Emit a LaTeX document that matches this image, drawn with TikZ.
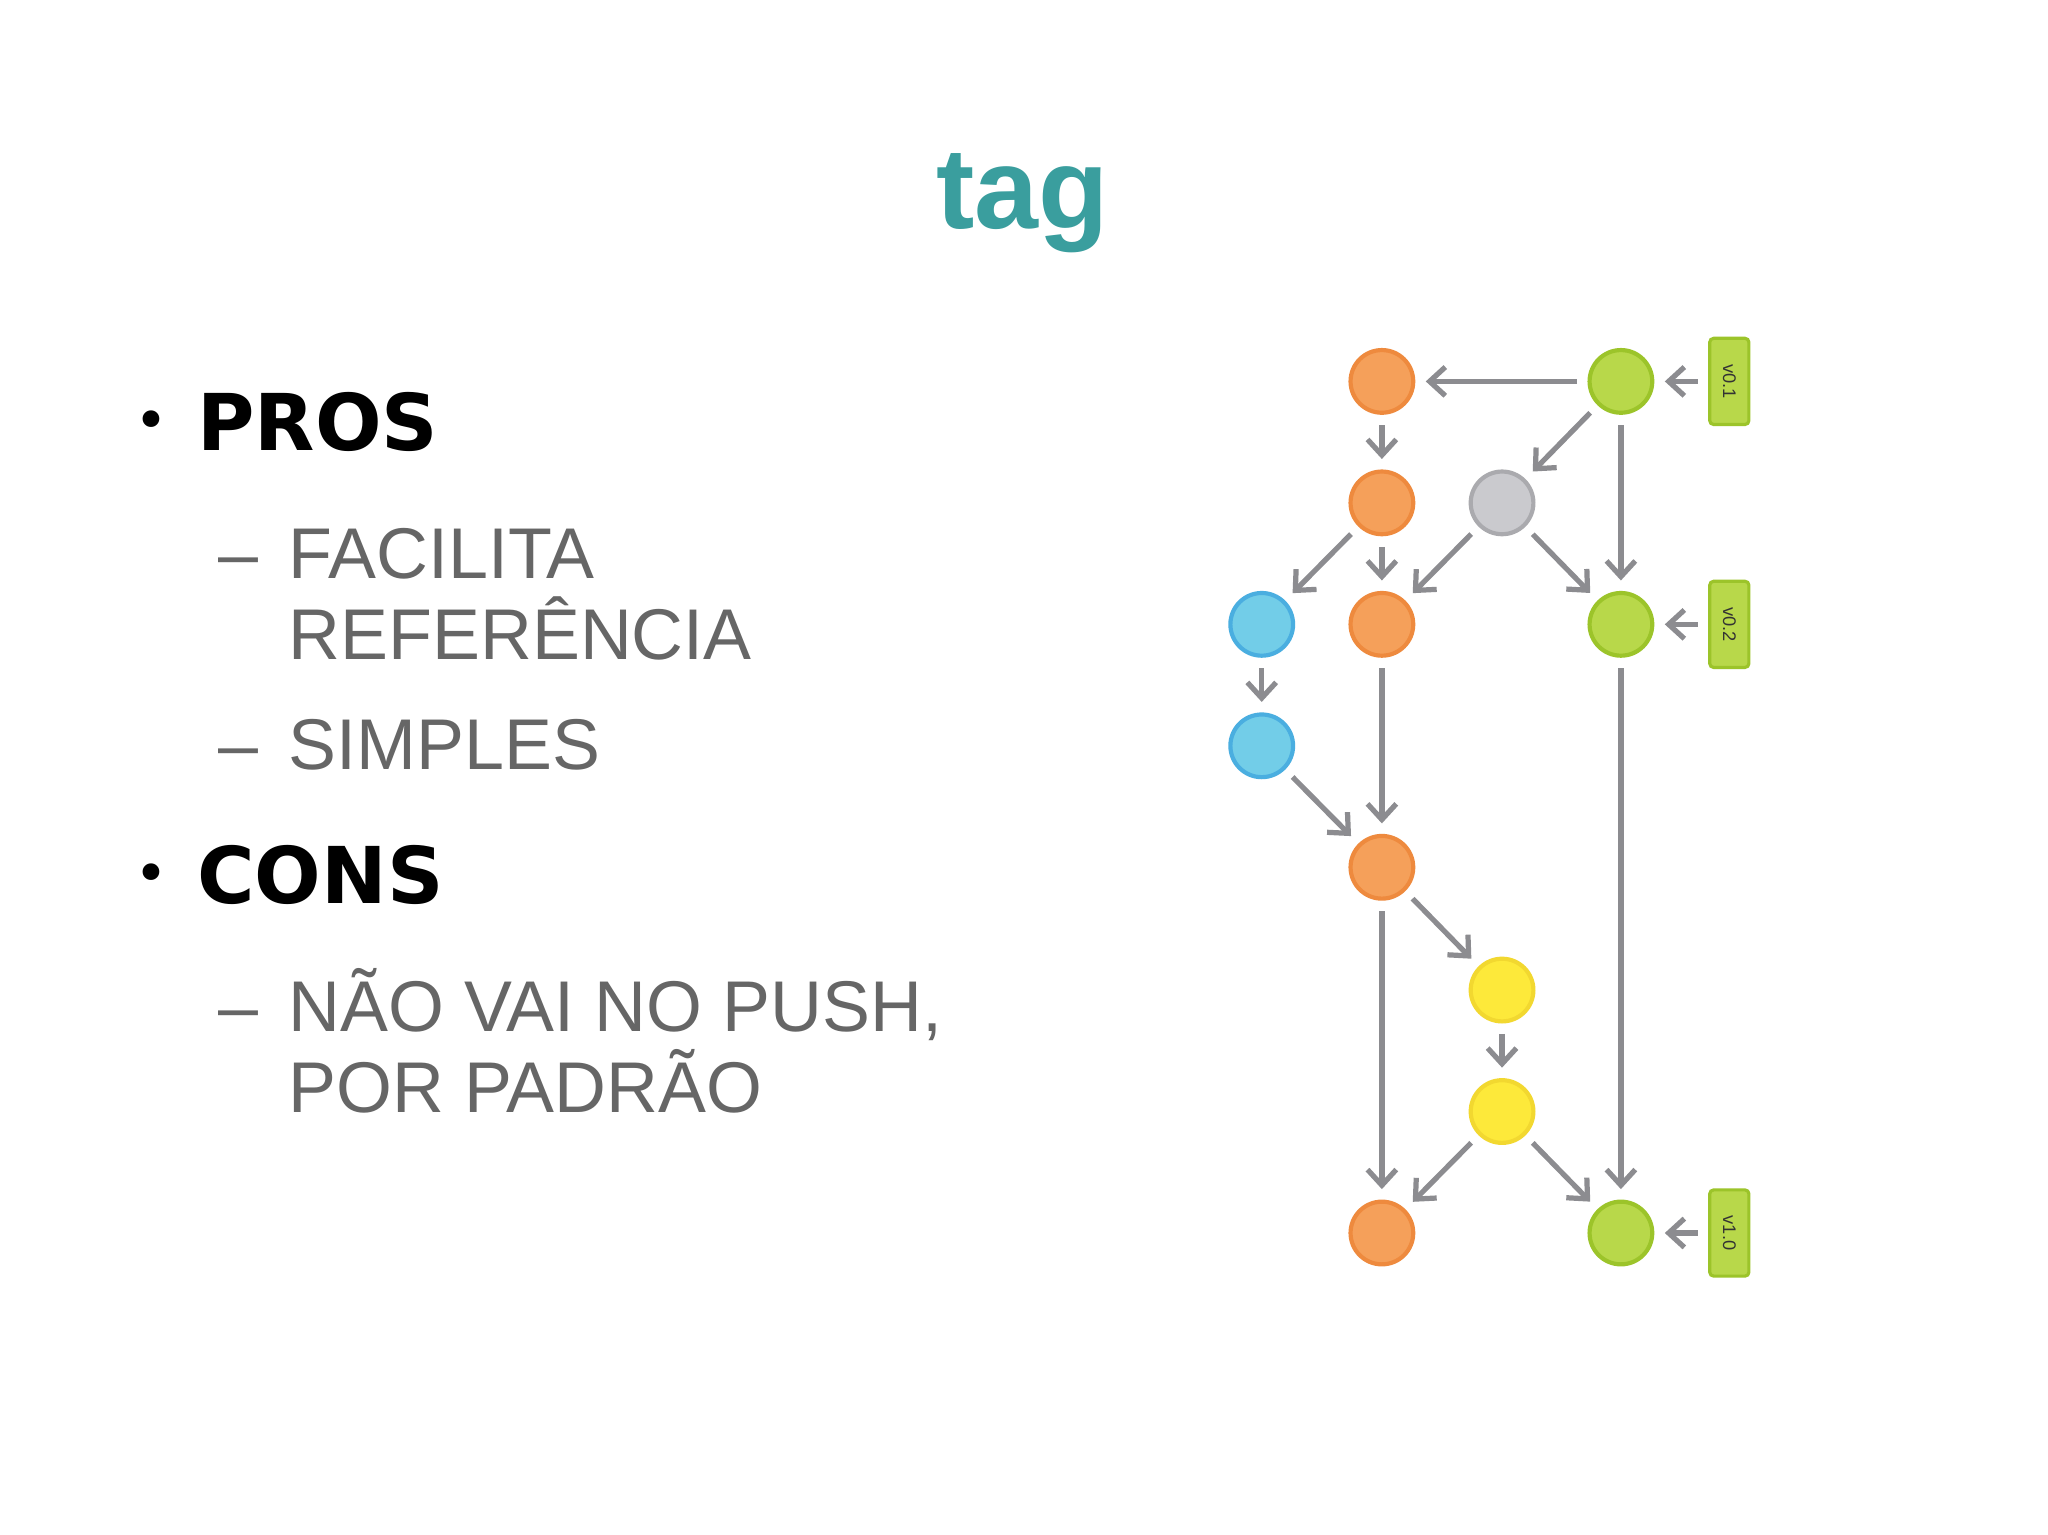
\documentclass[tikz,border=0pt]{standalone}
\usepackage{fontspec}
\setmainfont{Liberation Sans}
\newfontfamily\heavy{DejaVu Sans}
\usetikzlibrary{arrows.meta}
\definecolor{teal1}{HTML}{3A9E9E}
\definecolor{txt}{HTML}{666666}
\definecolor{arr}{HTML}{8C8C90}
\definecolor{orF}{HTML}{F5A05A}\definecolor{orD}{HTML}{EE8A3E}
\definecolor{grF}{HTML}{B8D84A}\definecolor{grD}{HTML}{9CC42A}
\definecolor{blF}{HTML}{72CDE8}\definecolor{blD}{HTML}{4AAEE0}
\definecolor{gyF}{HTML}{CACACE}\definecolor{gyD}{HTML}{AAAAAE}
\definecolor{yeF}{HTML}{FDE93A}\definecolor{yeD}{HTML}{F2D830}
\begin{document}
\begin{tikzpicture}[x=0.5pt,y=-0.5pt,
  commit/.style={circle,minimum size=24pt,inner sep=0pt,line width=1.6pt},
  org/.style={commit,fill=orF,draw=orD},
  grn/.style={commit,fill=grF,draw=grD},
  blu/.style={commit,fill=blF,draw=blD},
  gry/.style={commit,fill=gyF,draw=gyD},
  yel/.style={commit,fill=yeF,draw=yeD},
  ed/.style={draw=arr,line width=2pt,-{Straight Barb[length=6pt,width=11pt,line width=2pt]},shorten >=4pt,shorten <=4pt},
  tg/.style={draw=grD,fill=grF,line width=1.2pt,rounded corners=1.5pt,minimum width=15pt,minimum height=33pt,inner sep=0pt},
  tl/.style={rotate=-90,font=\fontsize{7}{8}\selectfont,text=black!80},
  bt/.style={anchor=base west,font=\heavy\bfseries\fontsize{30}{32}\selectfont},
  bul/.style={anchor=base west,font=\heavy\fontsize{22}{24}\selectfont},
  st/.style={anchor=base west,text=txt,font=\fontsize{27.5}{28}\selectfont,align=left}]
\useasboundingbox (0,0) rectangle (1568,1175);
\fill[white] (0,0) rectangle (1568,1175);
\node[text=teal1,font=\bfseries\fontsize{44}{44}\selectfont,anchor=base] (title) at (783,175) {tag};
\node[bul] (b1) at (96,337) {•};
\node[bt] (pros) at (144,345) {PROS};
\node[st] (d1) at (160,443) {–};
\node[st] (t1) at (214,443) {FACILITA};
\node[st] (t1b) at (214,505) {REFERÊNCIA};
\node[st] (d2) at (160,589) {–};
\node[st] (t2) at (214,589) {SIMPLES};
\node[bul] (b2) at (96,684) {•};
\node[bt] (cons) at (144,692) {CONS};
\node[st] (d3) at (160,790) {–};
\node[st] (t3) at (214,790) {NÃO VAI NO PUSH,};
\node[st] (t3b) at (214,852) {POR PADRÃO};
% commits
\node[org] (o1) at (1058,292) {};
\node[grn] (g1) at (1241,292) {};
\node[org] (o2) at (1058,385) {};
\node[gry] (gr) at (1150,385) {};
\node[blu] (c1) at (966,478) {};
\node[org] (o3) at (1058,478) {};
\node[grn] (g2) at (1241,478) {};
\node[blu] (c2) at (966,571) {};
\node[org] (o4) at (1058,664) {};
\node[yel] (y1) at (1150,758) {};
\node[yel] (y2) at (1150,851) {};
\node[org] (o5) at (1058,944) {};
\node[grn] (g3) at (1241,944) {};
\node[tg] (v1) at (1324,292) {}; \node[tl] at (v1) {v0.1};
\node[tg] (v2) at (1324,478) {}; \node[tl] at (v2) {v0.2};
\node[tg] (v3) at (1324,944) {}; \node[tl] at (v3) {v1.0};
\foreach \a/\b in {g1/o1,g1/gr,g1/g2,o1/o2,o2/c1,o2/o3,gr/o3,gr/g2,c1/c2,c2/o4,o3/o4,o4/y1,o4/o5,y1/y2,y2/o5,y2/g3,g2/g3,v1/g1,v2/g2,v3/g3}
  \draw[ed] (\a) -- (\b);
\end{tikzpicture}
\end{document}
